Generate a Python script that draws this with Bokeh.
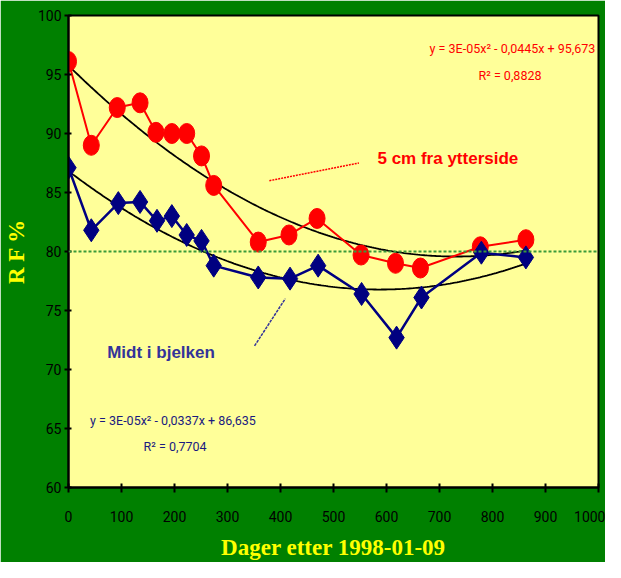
import numpy as np
from bokeh.plotting import figure
from bokeh.models import Span, FixedTicker
from bokeh.core.properties import value
from bokeh.embed import file_html
from bokeh.resources import INLINE

# Data
red_days = [0, 43, 92, 135, 165, 195, 223, 251, 274, 358, 416, 469, 552, 617, 664, 777, 863]
red_rf = [96.1, 89.0, 92.2, 92.6, 90.1, 90.0, 90.0, 88.1, 85.6, 80.8, 81.4, 82.8, 79.7, 79.0, 78.6, 80.4, 81.0]

blue_days = [0, 43, 94, 135, 167, 195, 223, 251, 274, 358, 418, 471, 553, 619, 666, 779, 863]
blue_rf = [87.1, 81.8, 84.1, 84.2, 82.6, 83.0, 81.4, 80.9, 78.8, 77.8, 77.7, 78.8, 76.4, 72.7, 76.1, 79.9, 79.5]

x_ticks = [0, 100, 200, 300, 400, 500, 600, 700, 800, 900, 1000]
y_ticks = [60, 65, 70, 75, 80, 85, 90, 95, 100]
ref_level = 80

red_eq = ["y = 3E-05x\u00b2 - 0,0445x + 95,673", "R\u00b2 = 0,8828"]
blue_eq = ["y = 3E-05x\u00b2 - 0,0337x + 86,635", "R\u00b2 = 0,7704"]
red_label = "5 cm fra ytterside"
blue_label = "Midt i bjelken"

narrow = "Roboto"

p = figure(width=605, height=562, x_range=(0, 1000), y_range=(60, 100),
           output_backend="svg", toolbar_location=None,
           min_border_left=65, min_border_right=7, min_border_top=15, min_border_bottom=75)
p.border_fill_color = "#008000"
p.background_fill_color = "#FFFF99"
p.outline_line_color = "black"
p.outline_line_width = 2
p.grid.visible = False

p.xaxis.ticker = FixedTicker(ticks=x_ticks)
p.yaxis.ticker = FixedTicker(ticks=y_ticks)
p.xaxis.minor_tick_line_color = None
p.yaxis.minor_tick_line_color = None
for ax in (p.xaxis[0], p.yaxis[0]):
    ax.axis_line_color = "black"
    ax.axis_line_width = 2
    ax.major_tick_line_color = "black"
    ax.major_tick_line_width = 2
    ax.major_label_text_color = "black"
    ax.major_label_text_font = narrow
    ax.major_label_text_font_size = "14px"
    ax.axis_label_text_color = "#FFFF00"
    ax.axis_label_text_font = "Liberation Serif"
    ax.axis_label_text_font_style = "bold"
    ax.axis_label_text_font_size = "23px"
p.xaxis.major_tick_in = 4
p.xaxis.major_tick_out = 5
p.xaxis.major_label_standoff = 18
p.yaxis.major_tick_in = 3
p.yaxis.major_tick_out = 4
p.yaxis.major_label_standoff = 3
p.xaxis.axis_label = "Dager etter 1998-01-09"
p.yaxis.axis_label = "R F %"
p.xaxis.axis_label_standoff = 10
p.yaxis.axis_label_standoff = 6

p.add_layout(Span(location=ref_level, dimension="width", line_color="#3a9a3a",
                  line_dash="3 2", line_width=2))

# Polynomial trendlines (Excel-style 2nd order fits of the series)
xs = np.linspace(0, max(red_days), 200)
cr = np.polyfit(red_days, red_rf, 2)
cb = np.polyfit(blue_days, blue_rf, 2)
p.line(xs, np.polyval(cr, xs), line_color="black", line_width=1.8)
p.line(xs, np.polyval(cb, xs), line_color="black", line_width=1.8)

p.line(red_days, red_rf, line_color="#FF0000", line_width=2)
p.ellipse(red_days, red_rf, width=16, height=20, width_units="screen", height_units="screen",
          fill_color="#FF0000", line_color="#FF0000")
p.line(blue_days, blue_rf, line_color="#000080", line_width=2.5)
p.scatter(blue_days, blue_rf, marker="diamond", size=23,
          fill_color="#000080", line_color="#000080")

# annotations
p.line([379, 548], [86.0, 87.5], line_color="#FF0000", line_dash="2 1", line_width=1.5)
p.line([351, 409], [72.0, 76.0], line_color="#333399", line_dash="3 1", line_width=1.5)
p.text(x=[583], y=[87.9], text=[red_label], text_color="#FF0000", text_font=value("Liberation Sans"),
       text_font_style="bold", text_font_size="17px", text_baseline="middle", text_align="left")
p.text(x=[73], y=[71.4], text=[blue_label], text_color="#333399", text_font=value("Liberation Sans"),
       text_font_style="bold", text_font_size="17px", text_baseline="middle", text_align="left")

p.text(x=[994], y=[97.2], text=[red_eq[0]], text_color="#FF0000", text_font=value(narrow),
       text_font_size="12.5px", text_baseline="middle", text_align="right")
p.text(x=[833], y=[94.9], text=[red_eq[1]], text_color="#FF0000", text_font=value(narrow),
       text_font_size="12.5px", text_baseline="middle", text_align="center")
p.text(x=[197], y=[65.7], text=[blue_eq[0]], text_color="#1a1a80", text_font=value(narrow),
       text_font_size="12.5px", text_baseline="middle", text_align="center")
p.text(x=[201], y=[63.5], text=[blue_eq[1]], text_color="#1a1a80", text_font=value(narrow),
       text_font_size="12.5px", text_baseline="middle", text_align="center")

open("out.html", "w").write(file_html(p, INLINE))
